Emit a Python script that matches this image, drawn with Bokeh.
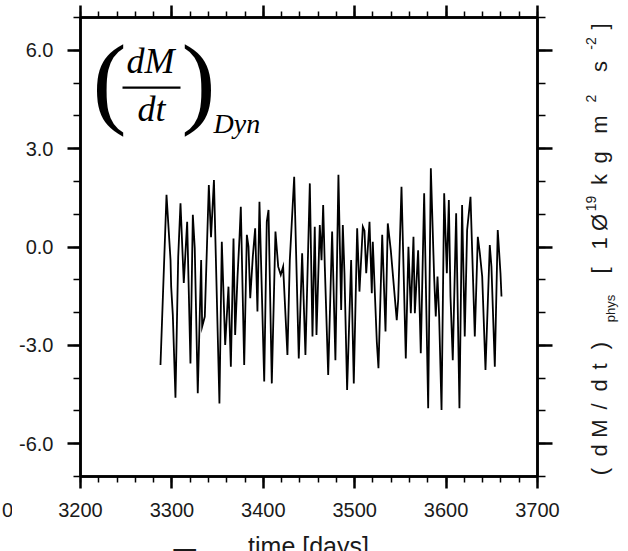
import math
from bokeh.plotting import figure
from bokeh.layouts import row, column
from bokeh.models import (Range1d, LinearAxis, FixedTicker, NumeralTickFormatter,
                          CustomJSTickFormatter, Label, BoxAnnotation)
from bokeh.embed import file_html
from bokeh.resources import INLINE

# ---------------- data ----------------
days = [3287.5, 3294.1, 3298.5, 3299.2, 3301.0, 3303.9, 3306.9, 3309.4, 3313.0, 3316.7,
        3320.3, 3322.9, 3325.0, 3328.3, 3332.0, 3333.1, 3336.0, 3340.4, 3342.8, 3346.0,
        3352.0, 3354.6, 3358.3, 3361.9, 3364.5, 3367.4, 3369.2, 3371.8, 3374.0, 3375.4,
        3379.1, 3382.0, 3383.8, 3385.7, 3388.5, 3391.1, 3393.6, 3395.8, 3401.0, 3403.8,
        3405.7, 3409.3,
        3413.3, 3416.3, 3419.1, 3421.7, 3426.4, 3429.0, 3433.8, 3438.8, 3442.5, 3446.1,
        3450.9, 3453.8, 3456.3, 3458.2, 3461.8, 3463.7, 3465.5, 3467.3, 3471.0,
        3475.3, 3478.9, 3482.2, 3485.2, 3487.0, 3488.8, 3491.7, 3496.1, 3499.0, 3502.7,
        3505.2, 3508.9, 3510.7, 3512.6, 3516.2, 3518.7, 3519.8, 3524.2, 3526.0, 3530.1,
        3533.7, 3536.2,
        3539.5, 3546.0, 3547.6, 3551.2, 3555.9, 3558.8, 3561.4, 3564.3, 3565.8, 3569.4,
        3572.3, 3576.0, 3580.4, 3583.3, 3586.9, 3588.7, 3590.6, 3592.4, 3595.0, 3597.9,
        3600.8,
        3603.0, 3604.8, 3607.3, 3611.0, 3614.6, 3617.5, 3620.4, 3623.0, 3626.7, 3631.4,
        3634.7, 3636.9, 3639.5, 3643.1, 3647.8, 3649.6, 3653.3, 3656.5, 3659.5, 3660.6]

dmdt_dyn = [-3.60, 1.59, -0.40, -1.21, -2.07, -4.60, -0.30, 1.33, -1.10, 0.77,
            -3.55, 0.98, -0.04, -4.46, -0.40, -2.43, -2.12, 1.89, 0.30, 2.04,
            -4.77, 0.16, -2.99, -1.21, -3.65, 0.26, -2.68, -0.90, 0.31, 1.23,
            -3.60, 0.37, 0.01, -1.56, -0.30, 0.57, -1.97, 1.38, -4.10, 0.77,
            1.13, -4.16,
            0.47, -0.60, -0.85, -0.60, -3.29, -0.40, 2.14, -3.40, -0.19, -3.29,
            1.94, -2.73, 0.62, -2.68, 0.67, -0.40, 1.28, -0.60, -3.90,
            0.47, -3.45, 2.20, -1.92, 0.67, -0.80, -4.36, -0.40, -4.16, 0.57,
            -1.36, 0.62, 0.50, -0.80, 0.77, -1.41, 0.16, -2.90, -3.70, 0.37,
            -2.58, 0.72,
            -0.10, -2.23, -1.60, 1.84, -3.40, 0.01, -2.02, 0.31, -2.02, -0.10,
            -3.24, 1.64, -4.92, 2.40, -0.90, -2.12, -0.90, -2.12, -4.97, 1.64,
            -0.80,
            1.43, -1.51, -3.45, 1.03, -4.92, 1.28, -2.73, 0.52, 1.53, -2.73,
            0.31, -0.19, -0.90, -3.75, 0.06, -0.60, -3.65, 0.52, -0.80, -1.51]

x_ticks = [3200, 3300, 3400, 3500, 3600, 3700]
x_minor_ticks = list(range(3200, 3701, 20))
y_ticks = [-6, -3, 0, 3, 6]
y_minor_ticks = list(range(-7, 8, 1))
x_title = "time [days]"
neighbour_tick = "0"
right_label = [("(", 471, "m"), ("d", 450, "m"), ("M", 428, "m"), ("/", 406, "m"),
               ("d", 385, "m"), ("t", 366, "m"), (")", 345, "m"), ("phys", 308, "sub"),
               ("[", 270, "m"), ("1", 243, "m"), ("Ø", 222, "m"), ("19", 203, "sup"),
               ("k", 179, "m"), ("g", 157, "m"), ("m", 124, "m"), ("2", 98, "sup"),
               ("s", 66, "m"), ("-2", 43, "sup"), ("]", 26, "m")]

# ---------------- layout geometry (page pixels) ----------------
W, H = 628, 551
LEFT_W = 12          # strip holding the cropped neighbour "0"
MAIN_R = 560         # right edge of main figure
TOP_H = 530          # height of the top row
FL, FR, FT, FB = 80, 537, 17, 476
X0, X1, Y0, Y1 = 3200, 3700, -7, 7
SANS = "Liberation Sans"
SERIF = "Liberation Serif"
INK = "#1a1a1a"


def dx(px):
    return X0 + (px - FL) * (X1 - X0) / (FR - FL)


def dy(py):
    return Y1 - (py - FT) * (Y1 - Y0) / (FB - FT)


def mid(baseline, size, k=0.345):
    # anchor for text_baseline="middle" so that the glyph baseline lands at `baseline`
    return baseline - k * size


main = figure(width=MAIN_R - LEFT_W, height=TOP_H, x_range=Range1d(X0, X1),
              y_range=Range1d(Y0, Y1), output_backend="svg", toolbar_location=None,
              x_axis_type=None, y_axis_type=None,
              min_border_left=FL - LEFT_W, min_border_right=MAIN_R - FR,
              min_border_top=FT, min_border_bottom=TOP_H - FB)
main.background_fill_color = "white"
main.border_fill_color = "white"
main.outline_line_color = "black"
main.outline_line_width = 2.5

xt = FixedTicker(ticks=x_ticks, minor_ticks=x_minor_ticks)
yt = FixedTicker(ticks=y_ticks, minor_ticks=y_minor_ticks)
blank = CustomJSTickFormatter(code="return ''")


def style(ax, tick_out, minor_out):
    ax.axis_line_color = "black"
    ax.axis_line_width = 2.5
    ax.major_tick_line_color = "black"
    ax.major_tick_line_width = 2.5
    ax.minor_tick_line_color = "black"
    ax.minor_tick_line_width = 1.5
    ax.major_tick_in = 0
    ax.minor_tick_in = 0
    ax.major_tick_out = tick_out
    ax.minor_tick_out = minor_out
    ax.major_label_text_font = SANS
    ax.major_label_text_font_size = "20px"
    ax.major_label_text_color = INK
    ax.major_label_standoff = 14


bottom = LinearAxis(ticker=xt, formatter=NumeralTickFormatter(format="0"))
style(bottom, 12, 6)
main.add_layout(bottom, "below")

top = LinearAxis(ticker=xt, formatter=blank)
style(top, 12, 6)
top.major_label_standoff = 0
main.add_layout(top, "above")

left = LinearAxis(ticker=yt, formatter=NumeralTickFormatter(format="0.0"))
style(left, 13, 7)
main.add_layout(left, "left")

right = LinearAxis(ticker=yt, formatter=blank)
style(right, 15, 8)
right.major_label_standoff = 0
main.add_layout(right, "right")

main.line(days, dmdt_dyn, line_color="black", line_width=1.8, line_join="miter")

# ---------------- formula (dM/dt)_Dyn ----------------
main.add_layout(Label(x=dx(92), y=dy(mid(114, 102, 0.3375)), text="(", text_font=SERIF,
                      text_font_size="102px", text_align="left", text_baseline="middle",
                      text_color="black"))
main.add_layout(Label(x=dx(181), y=dy(mid(114, 102, 0.3375)), text=")", text_font=SERIF,
                      text_font_size="102px", text_align="left", text_baseline="middle",
                      text_color="black"))
main.add_layout(Label(x=dx(150), y=dy(mid(73, 36, 0.3375)), text="dM", text_font=SERIF,
                      text_font_size="36px", text_font_style="italic", text_align="center",
                      text_baseline="middle", text_color="black"))
main.add_layout(BoxAnnotation(left=dx(122), right=dx(180), top=dy(86), bottom=dy(88.2),
                              fill_color="black", fill_alpha=1.0, line_alpha=0))
main.add_layout(Label(x=dx(151), y=dy(mid(121, 36, 0.3375)), text="dt", text_font=SERIF,
                      text_font_size="36px", text_font_style="italic", text_align="center",
                      text_baseline="middle", text_color="black"))
main.add_layout(Label(x=dx(213), y=dy(mid(132, 28, 0.3375)), text="Dyn", text_font=SERIF,
                      text_font_size="28px", text_font_style="italic", text_align="left",
                      text_baseline="middle", text_color="black"))


def strip(x_lo, x_hi, y_lo, y_hi, height, top_b=0, bot_b=0):
    # y_range maps page pixels (y_lo at top of the frame, y_hi at its bottom)
    f = figure(width=x_hi - x_lo, height=height,
               x_range=Range1d(x_lo, x_hi), y_range=Range1d(y_hi, y_lo),
               output_backend="svg", toolbar_location=None,
               x_axis_type=None, y_axis_type=None,
               min_border_left=0, min_border_right=0,
               min_border_top=top_b, min_border_bottom=bot_b)
    f.outline_line_color = None
    f.background_fill_color = "white"
    f.border_fill_color = "white"
    return f


# left strip: cropped neighbour tick label (drawn as an axis label so it sits with the ticks)
lstrip = strip(0, LEFT_W, FT, FB, TOP_H, FT, TOP_H - FB)
nb_axis = LinearAxis(ticker=FixedTicker(ticks=[4]), major_label_overrides={4: neighbour_tick})
style(nb_axis, 12, 6)
nb_axis.axis_line_alpha = 0
nb_axis.major_tick_line_alpha = 0
nb_axis.minor_tick_line_alpha = 0
lstrip.add_layout(nb_axis, "below")

# right strip: rotated unit label (frame aligned with the main frame: y = page pixels)
rstrip = strip(MAIN_R, W, FT, FB, TOP_H, FT, TOP_H - FB)
base_x = {"m": 607, "sup": 595, "sub": 614}
fsize = {"m": 22, "sup": 14, "sub": 13}
for txt, ypx, kind in right_label:
    rstrip.add_layout(Label(x=mid(base_x[kind], fsize[kind]), y=ypx, text=txt,
                            angle=math.pi / 2, text_font=SANS,
                            text_font_size=f"{fsize[kind]}px", text_align="center",
                            text_baseline="middle", text_color=INK))

# bottom strip: cropped axis title and the cropped title of the panel below
bstrip = strip(0, W, TOP_H, H, H - TOP_H)
bstrip.add_layout(Label(x=308, y=mid(554, 25), text=x_title, text_font=SANS,
                        text_font_size="25px", text_align="center", text_baseline="middle",
                        text_color=INK))
bstrip.add_layout(Label(x=172, y=mid(576, 40), text="T", text_font=SANS,
                        text_font_size="40px", text_align="left", text_baseline="middle",
                        text_color=INK))

layout = column(row(lstrip, main, rstrip), bstrip)
open("out.html", "w").write(file_html(layout, INLINE))
